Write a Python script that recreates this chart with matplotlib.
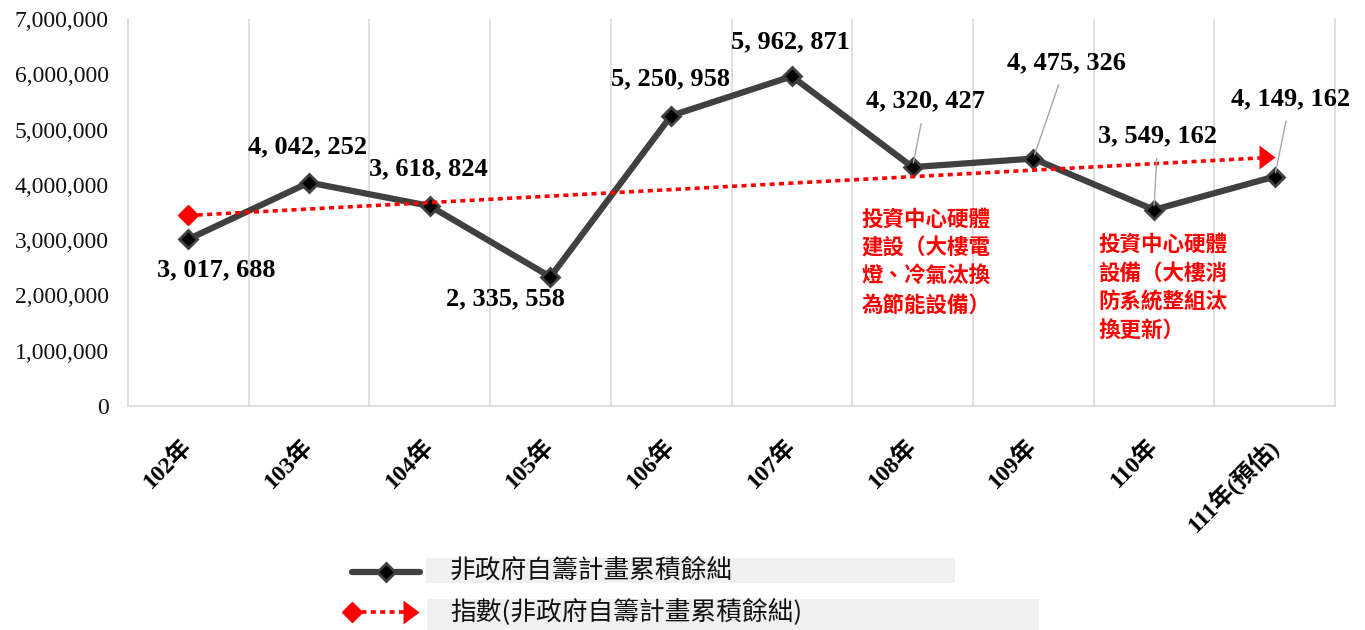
import matplotlib
matplotlib.use("Agg")
import matplotlib.pyplot as plt
from matplotlib.lines import Line2D
from matplotlib.patches import Rectangle
from matplotlib.path import Path
from matplotlib.ticker import FuncFormatter, FixedLocator

plt.rcParams['font.family'] = ['Liberation Serif', 'Noto Sans CJK TC']

# ---------------- data ----------------
categories = ['102年', '103年', '104年', '105年', '106年',
              '107年', '108年', '109年', '110年', '111年(預估)']
surplus = [3017688, 4042252, 3618824, 2335558, 5250958,
           5962871, 4320427, 4475326, 3549162, 4149162]
surplus_labels = ['3, 017, 688', '4, 042, 252', '3, 618, 824', '2, 335, 558',
                  '5, 250, 958', '5, 962, 871', '4, 320, 427', '4, 475, 326',
                  '3, 549, 162', '4, 149, 162']
trend_values = [3446000, 4500000]          # trend arrow: start (102年) and end (111年)
series_name = '非政府自籌計畫累積餘絀'
trend_name = '指數(非政府自籌計畫累積餘絀)'
note_108 = '投資中心硬體\n建設（大樓電\n燈、冷氣汰換\n為節能設備）'
note_110 = '投資中心硬體\n設備（大樓消\n防系統整組汰\n換更新）'
y_ticks = [0, 1000000, 2000000, 3000000, 4000000, 5000000, 6000000, 7000000]

# ---------------- layout ----------------
W, H = 1365, 630
fig = plt.figure(figsize=(W / 100, H / 100), dpi=100)
ax_l, ax_r, ax_b, ax_t = 128, 1335, 406, 19
ax = fig.add_axes([ax_l / W, 1 - ax_b / H, (ax_r - ax_l) / W, (ax_b - ax_t) / H])

x = list(range(len(categories)))
ax.set_xlim(-0.5, len(categories) - 0.5)
ax.set_ylim(0, 7000000)

grid_c = '#d9d9d9'
ax.spines['top'].set_visible(False)
for s in ['left', 'right', 'bottom']:
    ax.spines[s].set_color(grid_c)
    ax.spines[s].set_linewidth(1.2)

# vertical gridlines at category boundaries
ax.xaxis.set_minor_locator(FixedLocator([i + 0.5 for i in range(len(categories) - 1)]))
ax.grid(which='minor', axis='x', color=grid_c, linewidth=1.2)
ax.tick_params(which='both', length=0)

ax.set_yticks(y_ticks)
ax.yaxis.set_major_formatter(FuncFormatter(lambda v, p: f'{int(v):,}'))
ax.tick_params(axis='y', labelsize=17, pad=14, labelcolor='#111111')

ax.set_xticks(x)
ax.set_xticklabels(categories, rotation=45, ha='right', va='center',
                   rotation_mode='anchor', fontsize=17, fontweight='bold')
ax.tick_params(axis='x', pad=27)

# main series
ax.plot(x, surplus, color='#404040', lw=4.5, marker='D', ms=9,
        mfc='black', mec='#404040', mew=2, zorder=3, solid_joinstyle='round')

# trend arrow
arrow_path = Path([(0, 0), (-1, 0.75), (-1, -0.75), (0, 0)],
                  [Path.MOVETO, Path.LINETO, Path.LINETO, Path.CLOSEPOLY])
tx = [x[0], x[-1]]
ax.plot(tx, trend_values, color='red', lw=2.6, linestyle=(0, (1.4, 1.2)),
        dash_capstyle='butt', zorder=4)
ax.plot(tx[0], trend_values[0], marker='D', ms=10, color='red', mec='red', zorder=5)
ax.plot(tx[1], trend_values[1], marker=arrow_path, ms=23, color='red', mec='red',
        mew=0, zorder=5)

# data labels (pixel offsets)
offsets = [(28, -31), (-1, 36), (-1, 37), (-45, -22), (-1, 37),
           (-1, 35), (13, 66), (33, 96), (4, 74), (16, 78)]
leaders = [False, False, False, False, False, False, True, True, True, True]
for i, (v, lab) in enumerate(zip(surplus, surplus_labels)):
    kw = {}
    if leaders[i]:
        kw['arrowprops'] = dict(arrowstyle='-', color='#a6a6a6', lw=1,
                                shrinkA=6, shrinkB=3)
    ax.annotate(lab, xy=(x[i], v), xytext=offsets[i], textcoords='offset pixels',
                ha='center', va='center', fontsize=19, fontweight='bold',
                color='black', zorder=6, **kw)

# red notes
ax.text(5.58, 3570000, note_108, color='red', fontsize=15.5, fontweight='bold',
        family=['Noto Sans CJK TC'], va='top', ha='left', linespacing=1.45)
ax.text(7.54, 3110000, note_110, color='red', fontsize=15.5, fontweight='bold',
        family=['Noto Sans CJK TC'], va='top', ha='left', linespacing=1.45)

# ---------------- legend (manual, figure pixels) ----------------
def fx(px):
    return px / W

def fy(py):
    return 1 - py / H

fig.patches.append(Rectangle((fx(426), fy(583)), fx(955) - fx(426), fy(558) - fy(583),
                             transform=fig.transFigure, facecolor='#f0f0f0',
                             edgecolor='none'))
fig.patches.append(Rectangle((fx(427), fy(630)), fx(1039) - fx(427), fy(599) - fy(630),
                             transform=fig.transFigure, facecolor='#f0f0f0',
                             edgecolor='none'))
fig.add_artist(Line2D([fx(352), fx(420)], [fy(572), fy(572)], transform=fig.transFigure,
                      color='#404040', lw=4.5, solid_capstyle='round'))
fig.add_artist(Line2D([fx(386)], [fy(572)], transform=fig.transFigure, marker='D',
                      ms=9, mfc='black', mec='#404040', mew=2, lw=0))
fig.add_artist(Line2D([fx(352), fx(408)], [fy(612), fy(612)], transform=fig.transFigure,
                      color='red', lw=2.6, linestyle=(0, (1.4, 1.2)), dash_capstyle='butt'))
fig.add_artist(Line2D([fx(352)], [fy(612)], transform=fig.transFigure, marker='D',
                      ms=10, color='red', lw=0))
fig.add_artist(Line2D([fx(419)], [fy(612)], transform=fig.transFigure, marker=arrow_path,
                      ms=23, color='red', mew=0, lw=0))

fig.text(fx(450), fy(571), series_name, fontsize=18.5, family=['Noto Sans CJK TC'],
         va='center', ha='left', color='#111111')
fig.text(fx(450), fy(612), trend_name, fontsize=18.5, family=['Noto Sans CJK TC'],
         va='center', ha='left', color='#111111')

fig.savefig('out.png', dpi=100)
